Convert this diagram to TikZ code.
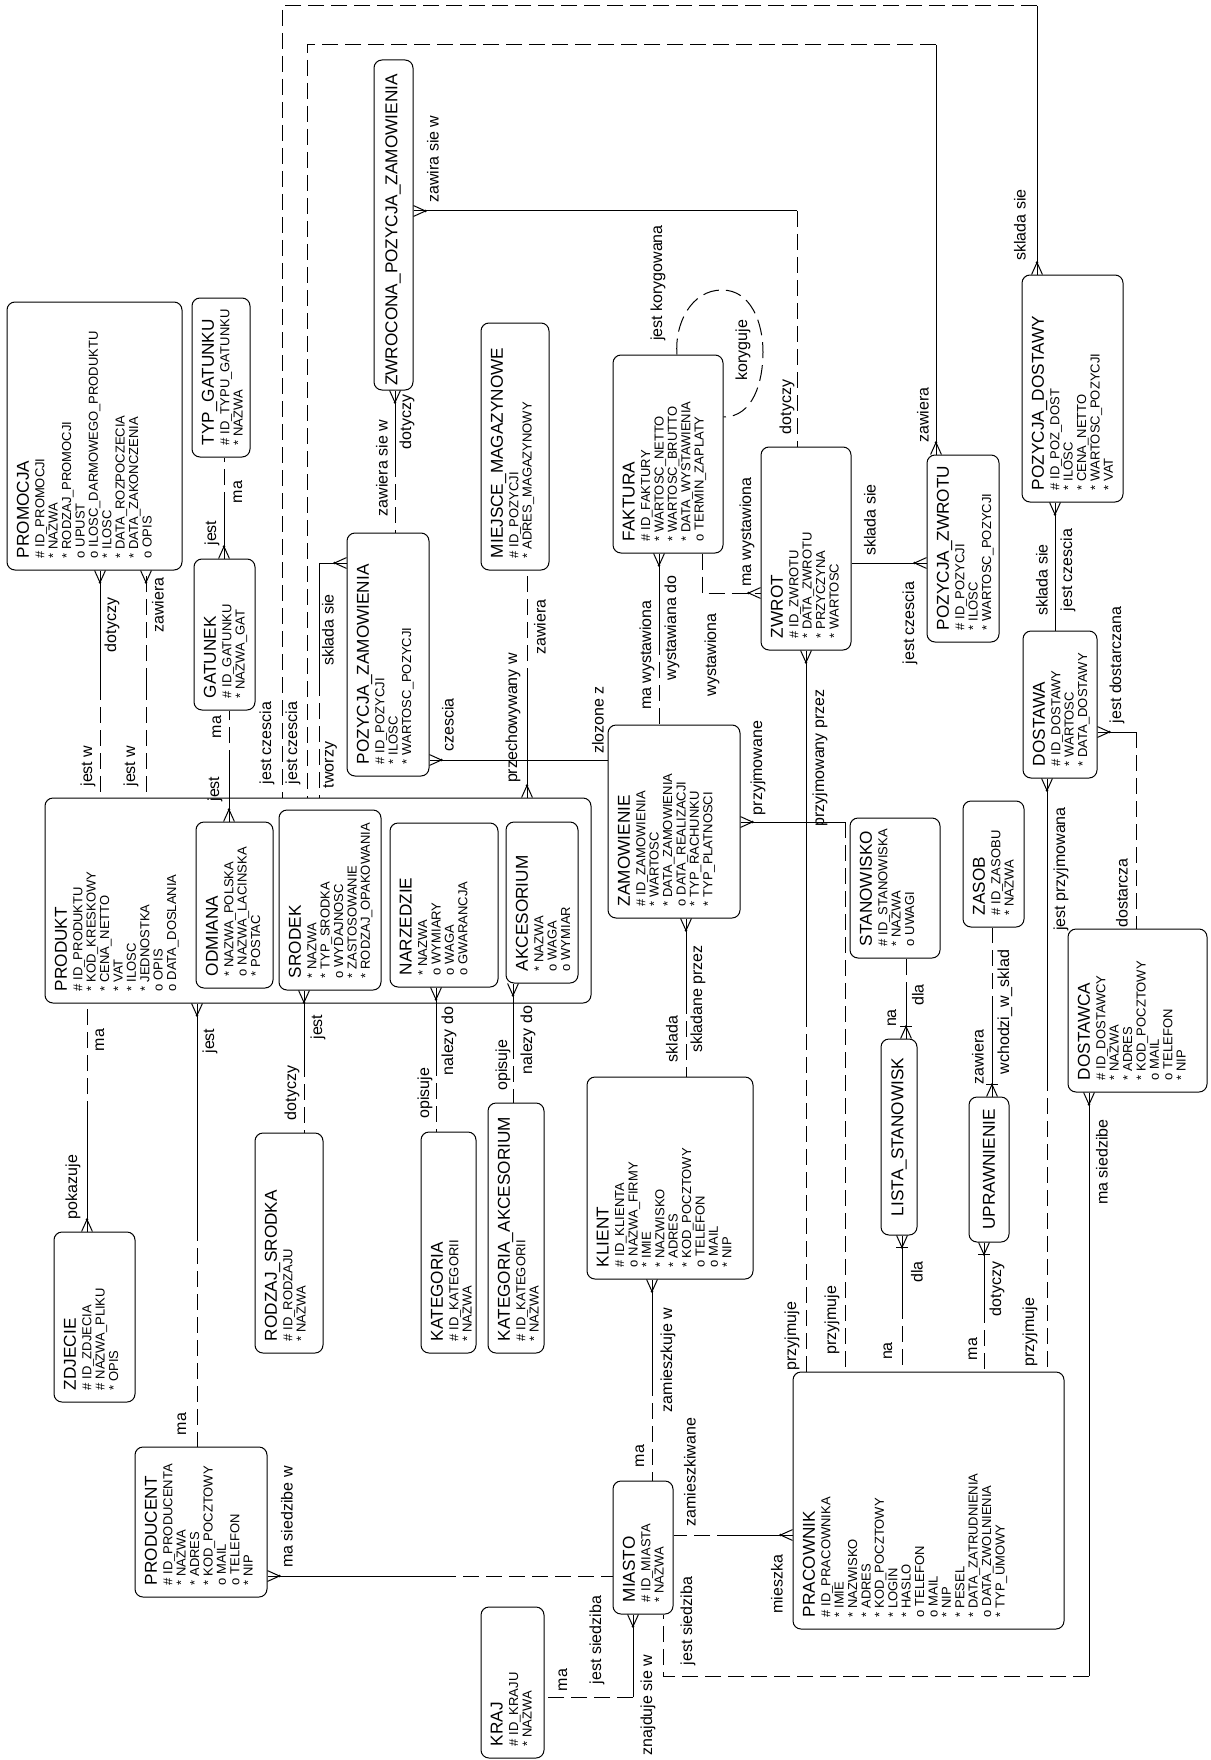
\documentclass[tikz,border=0pt]{standalone}
\usepackage{fontspec}
\setmainfont{Liberation Sans}
\usetikzlibrary{fit, decorations.markings}

\newcommand{\tyt}{\fontsize{8.6}{9.4}\selectfont}

\tikzset{
  encja/.style={draw, rounded corners=4pt, line width=0.5pt, inner sep=0pt},
  opis/.style={rotate=90, anchor=north west, align=left, inner xsep=6pt, inner ysep=5pt,
    font=\fontsize{6.5}{6.7}\selectfont},
  nazwa/.style={rotate=90, inner sep=0pt, font=\tyt},
  etyk/.style={rotate=90, inner sep=0pt, font=\fontsize{8}{9}\selectfont},
  rel/.style={line width=0.5pt},
  opc/.style={rel, dash pattern=on 8pt off 3.5pt},
  wiele/.style={postaction={decorate, decoration={markings, mark=at position 1 with {
    \draw[solid, line width=0.5pt] (-6pt,0) -- (0,2.7pt) (-6pt,0) -- (0,-2.7pt);
    \fill (-6pt,0) circle (0.7pt);}}}},
  wieleid/.style={wiele, postaction={decorate, decoration={markings, mark=at position 1 with {
    \draw[solid, line width=0.5pt] (-6pt,-2.9pt) -- (-6pt,2.9pt);}}}},
}

\begin{document}
\begin{tikzpicture}[x=0.5pt, y=-0.5pt]
  \useasboundingbox (0,0) rectangle (1210,1760);

  % encje
  \node[encja, fit={(7,302) (182,570)}] (promocja) {};
  \node[opis] (promocja-t) at (promocja.south west) {{\tyt PROMOCJA}\\[1pt]\# ID\_PROMOCJI\\{*} NAZWA\\{*} RODZAJ\_PROMOCJI\\o UPUST\\o ILOSC\_DARMOWEGO\_PRODUKTU\\{*} ILOSC\\{*} DATA\_ROZPOCZECIA\\{*} DATA\_ZAKONCZENIA\\o OPIS};
  \node[encja, fit={(192,298) (250,457)}] (typgat) {};
  \node[opis] (typgat-t) at (typgat.south west) {{\tyt TYP\_GATUNKU}\\[1pt]\# ID\_TYPU\_GATUNKU\\{*} NAZWA};
  \node[encja, fit={(194,559) (255,710)}] (gatunek) {};
  \node[opis] (gatunek-t) at (gatunek.south west) {{\tyt GATUNEK}\\[1pt]\# ID\_GATUNKU\\{*} NAZWA\_GAT};
  \node[encja, fit={(374,60) (413,390)}] (zwrocona) {};
  \node[nazwa] (zwrocona-t) at (393,230) {ZWROCONA\_POZYCJA\_ZAMOWIENIA};
  \node[encja, fit={(347,533) (429,776)}] (pozzam) {};
  \node[opis] (pozzam-t) at (pozzam.south west) {{\tyt POZYCJA\_ZAMOWIENIA}\\[1pt]\# ID\_POZYCJI\\{*} ILOSC\\{*} WARTOSC\_POZYCJI};
  \node[encja, fit={(481,323) (549,570)}] (miejsce) {};
  \node[opis] (miejsce-t) at (miejsce.south west) {{\tyt MIEJSCE\_MAGAZYNOWE}\\[1pt]\# ID\_POZYCJI\\{*} ADRES\_MAGAZYNOWY};
  \node[encja, fit={(613,355) (723,553)}] (faktura) {};
  \node[opis] (faktura-t) at (faktura.south west) {{\tyt FAKTURA}\\[1pt]\# ID\_FAKTURY\\{*} WARTOSC\_NETTO\\{*} WARTOSC\_BRUTTO\\{*} DATA\_WYSTAWIENIA\\o TERMIN\_ZAPLATY};
  \node[encja, fit={(761,447) (851,650)}] (zwrot) {};
  \node[opis] (zwrot-t) at (zwrot.south west) {{\tyt ZWROT}\\[1pt]\# ID\_ZWROTU\\{*} DATA\_ZWROTU\\{*} PRZYCZYNA\\{*} WARTOSC};
  \node[encja, fit={(927,455) (999,642)}] (pozzwr) {};
  \node[opis] (pozzwr-t) at (pozzwr.south west) {{\tyt POZYCJA\_ZWROTU}\\[1pt]\# ID\_POZYCJI\\{*} ILOSC\\{*} WARTOSC\_POZYCJI};
  \node[encja, fit={(1022,275) (1123,502)}] (pozdost) {};
  \node[opis] (pozdost-t) at (pozdost.south west) {{\tyt POZYCJA\_DOSTAWY}\\[1pt]\# ID\_POZ\_DOST\\{*} ILOSC\\{*} CENA\_NETTO\\{*} WARTOSC\_POZYCJI\\{*} VAT};
  \node[encja, fit={(1023,631) (1097,778)}] (dostawa) {};
  \node[opis] (dostawa-t) at (dostawa.south west) {{\tyt DOSTAWA}\\[1pt]\# ID\_DOSTAWY\\{*} WARTOSC\\{*} DATA\_DOSTAWY};
  \node[encja, fit={(608,725) (740,918)}] (zamowienie) {};
  \node[opis] (zamowienie-t) at (zamowienie.south west) {{\tyt ZAMOWIENIE}\\[1pt]\# ID\_ZAMOWIENIA\\{*} WARTOSC\\{*} DATA\_ZAMOWIENIA\\o DATA\_REALIZACJI\\{*} TYP\_RACHUNKU\\{*} TYP\_PLATNOSCI};

  % produkt z podtypami
  \node[encja, fit={(45,798) (591,1003)}] (produkt) {};
  \node[opis] (produkt-t) at (produkt.south west) {{\tyt PRODUKT}\\[1pt]\# ID\_PRODUKTU\\{*} KOD\_KRESKOWY\\{*} CENA\_NETTO\\{*} VAT\\{*} ILOSC\\{*} JEDNOSTKA\\o OPIS\\o DATA\_DOSLANIA};
  \node[encja, fit={(196,822) (273,988)}] (odmiana) {};
  \node[opis] (odmiana-t) at (odmiana.south west) {{\tyt ODMIANA}\\[1pt]{*} NAZWA\_POLSKA\\o NAZWA\_LACINSKA\\{*} POSTAC};
  \node[encja, fit={(279,810) (381,990)}] (srodek) {};
  \node[opis] (srodek-t) at (srodek.south west) {{\tyt SRODEK}\\[1pt]{*} NAZWA\\{*} TYP\_SRODKA\\o WYDAJNOSC\\{*} ZASTOSOWANIE\\{*} RODZAJ\_OPAKOWANIA};
  \node[encja, fit={(390,823) (498,987)}] (narzedzie) {};
  \node[opis] (narzedzie-t) at (narzedzie.south west) {{\tyt NARZEDZIE}\\[1pt]{*} NAZWA\\o WYMIARY\\o WAGA\\o GWARANCJA};
  \node[encja, fit={(506,822) (578,983)}] (akcesorium) {};
  \node[opis] (akcesorium-t) at (akcesorium.south west) {{\tyt AKCESORIUM}\\[1pt]{*} NAZWA\\o WAGA\\o WYMIAR};

  \node[encja, fit={(54,1232) (135,1402)}] (zdjecie) {};
  \node[opis] (zdjecie-t) at (zdjecie.south west) {{\tyt ZDJECIE}\\[1pt]\# ID\_ZDJECIA\\\# NAZWA\_PLIKU\\{*} OPIS};
  \node[encja, fit={(255,1133) (323,1353)}] (rodzaj) {};
  \node[opis] (rodzaj-t) at (rodzaj.south west) {{\tyt RODZAJ\_SRODKA}\\[1pt]\# ID\_RODZAJU\\{*} NAZWA};
  \node[encja, fit={(421,1132) (476,1353)}] (kategoria) {};
  \node[opis] (kategoria-t) at (kategoria.south west) {{\tyt KATEGORIA}\\[1pt]\# ID\_KATEGORII\\{*} NAZWA};
  \node[encja, fit={(488,1103) (544,1353)}] (katakc) {};
  \node[opis] (katakc-t) at (katakc.south west) {{\tyt KATEGORIA\_AKCESORIUM}\\[1pt]\# ID\_KATEGORII\\{*} NAZWA};
  \node[encja, fit={(587,1077) (753,1279)}] (klient) {};
  \node[opis] (klient-t) at (klient.south west) {{\tyt KLIENT}\\[1pt]\# ID\_KLIENTA\\o NAZWA\_FIRMY\\{*} IMIE\\{*} NAZWISKO\\{*} ADRES\\{*} KOD\_POCZTOWY\\o TELEFON\\o MAIL\\{*} NIP};
  \node[encja, fit={(850,818) (940,958)}] (stanowisko) {};
  \node[opis] (stanowisko-t) at (stanowisko.south west) {{\tyt STANOWISKO}\\[1pt]\# ID\_STANOWISKA\\{*} NAZWA\\o UWAGI};
  \node[encja, fit={(963,801) (1024,927)}] (zasob) {};
  \node[opis] (zasob-t) at (zasob.south west) {{\tyt ZASOB}\\[1pt]\# ID\_ZASOBU\\{*} NAZWA};
  \node[encja, fit={(1068,929) (1207,1092)}] (dostawca) {};
  \node[opis] (dostawca-t) at (dostawca.south west) {{\tyt DOSTAWCA}\\[1pt]\# ID\_DOSTAWCY\\{*} NAZWA\\{*} ADRES\\{*} KOD\_POCZTOWY\\o MAIL\\o TELEFON\\{*} NIP};
  \node[encja, fit={(881,1039) (917,1235)}] (lista) {};
  \node[nazwa] (lista-t) at (lista) {LISTA\_STANOWISK};
  \node[encja, fit={(969,1097) (1009,1242)}] (uprawn) {};
  \node[nazwa] (uprawn-t) at (uprawn) {UPRAWNIENIE};
  \node[encja, fit={(793,1372) (1064,1629)}] (pracownik) {};
  \node[opis] (pracownik-t) at (pracownik.south west) {{\tyt PRACOWNIK}\\[1pt]\# ID\_PRACOWNIKA\\{*} IMIE\\{*} NAZWISKO\\{*} ADRES\\{*} KOD\_POCZTOWY\\{*} LOGIN\\{*} HASLO\\o TELEFON\\o MAIL\\{*} NIP\\{*} PESEL\\{*} DATA\_ZATRUDNIENIA\\o DATA\_ZWOLNIENIA\\{*} TYP\_UMOWY};
  \node[encja, fit={(135,1447) (267,1597)}] (producent) {};
  \node[opis] (producent-t) at (producent.south west) {{\tyt PRODUCENT}\\[1pt]\# ID\_PRODUCENTA\\{*} NAZWA\\{*} ADRES\\{*} KOD\_POCZTOWY\\o MAIL\\o TELEFON\\{*} NIP};
  \node[encja, fit={(613,1481) (673,1614)}] (miasto) {};
  \node[opis] (miasto-t) at (miasto.south west) {{\tyt MIASTO}\\[1pt]\# ID\_MIASTA\\{*} NAZWA};
  \node[encja, fit={(481,1607) (544,1758)}] (kraj) {};
  \node[opis] (kraj-t) at (kraj.south west) {{\tyt KRAJ}\\[1pt]\# ID\_KRAJU\\{*} NAZWA};

  % relacje
  \coordinate (r1) at (100,684);
  \draw[rel, wiele] (r1) -- (r1 |- promocja.south);
  \draw[opc] (r1) -- (r1 |- produkt.north);
  \node[etyk] (e1a) at (112,625) {dotyczy};
  \node[etyk] (e1b) at (88,766) {jest w};

  \coordinate (r2) at (146,684);
  \draw[opc, wiele] (r2) -- (r2 |- promocja.south);
  \draw[opc] (r2) -- (r2 |- produkt.north);
  \node[etyk] (e2a) at (158,605) {zawiera};
  \node[etyk] (e2b) at (131,766) {jest w};

  \coordinate (r3) at (224,508);
  \draw[opc] (r3) -- (r3 |- typgat.south);
  \draw[rel, wiele] (r3) -- (r3 |- gatunek.north);
  \node[etyk] (e3a) at (238,492) {ma};
  \node[etyk] (e3b) at (212,533) {jest};

  \coordinate (r4) at (229,766);
  \draw[opc] (r4) -- (r4 |- gatunek.south);
  \draw[rel, wiele] (r4) -- (r4 |- odmiana.north);
  \node[etyk] (e4a) at (217,727) {ma};
  \node[etyk] (e4b) at (215,789) {jest};

  % dlugie petle u gory
  \coordinate (r5) at (1037,6);
  \draw[opc] (r5) -| (282,0 |- produkt.north);
  \draw[rel, wiele] (r5) -- (r5 |- pozdost.north);
  \node[etyk] (e5a) at (267,743) {jest czescia};
  \node[etyk] (e5b) at (1020,225) {sklada sie};

  \coordinate (r6) at (936,45);
  \draw[opc] (r6) -| (307,0 |- produkt.north);
  \draw[rel, wiele] (r6) -- (r6 |- pozzwr.north);
  \node[etyk] (e6a) at (293,743) {jest czescia};
  \node[etyk] (e6b) at (923,415) {zawiera};

  \coordinate (r7) at (319,680);
  \draw[opc] (r7) -- (r7 |- produkt.north);
  \draw[rel, wiele] (r7) |- (pozzam.west |- 0,563);
  \node[etyk] (e7a) at (330,765) {tworzy};
  \node[etyk] (e7b) at (328,630) {sklada sie};

  \coordinate (r8) at (395,461);
  \draw[opc] (r8) -- (r8 |- pozzam.north);
  \draw[rel, wiele] (r8) -- (r8 |- zwrocona.south);
  \node[etyk] (e8a) at (382,468) {zawiera sie w};
  \node[etyk] (e8b) at (407,422) {dotyczy};

  \coordinate (r9) at (797,211);
  \draw[rel, wiele] (r9) -- (zwrocona.east |- r9);
  \draw[opc] (r9) -- (r9 |- zwrot.north);
  \node[etyk] (e9a) at (433,159) {zawira sie w};
  \node[etyk] (e9b) at (787,407) {dotyczy};

  % faktura koryguje fakture
  \draw[opc, wiele] (677,0 |- faktura.north) to[out=95,in=180] (722,290)
    to[out=0,in=90] (763,352) to[out=-90,in=0] (faktura.east |- 0,417);
  \node[etyk] (e10a) at (658,283) {jest korygowana};
  \node[etyk] (e10b) at (743,350) {koryguje};

  \coordinate (r11) at (659,639);
  \draw[rel, wiele] (r11) -- (r11 |- faktura.south);
  \draw[opc] (r11) -- (r11 |- zamowienie.north);
  \node[etyk] (e11a) at (672,628) {wystawiana do};
  \node[etyk] (e11b) at (647,655) {ma wystawiona};

  \draw[opc, wiele] (702,0 |- faktura.south) |- (zwrot.west |- 0,593);
  \node[etyk] (e12a) at (712,655) {wystawiona};
  \node[etyk] (e12b) at (747,532) {ma wystawiona};

  \draw[rel, wiele] (zamowienie.west |- 0,760) -- (pozzam.east |- 0,760);
  \node[etyk] (e13a) at (448,725) {czescia};
  \node[etyk] (e13b) at (598,720) {zlozone z};

  \coordinate (r14) at (527,684);
  \draw[opc] (r14) -- (r14 |- miejsce.south);
  \draw[rel, wiele] (r14) -- (r14 |- produkt.north);
  \node[etyk] (e14a) at (540,627) {zawiera};
  \node[etyk] (e14b) at (513,718) {przechowywany w};

  \coordinate (r15) at (845,822);
  \draw[rel, wiele] (r15) -- (zamowienie.east |- r15);
  \draw[opc] (r15) -- (r15 |- pracownik.north);
  \node[etyk] (e15a) at (758,768) {przyjmowane};
  \node[etyk] (e15b) at (832,1320) {przyjmuje};

  \coordinate (r16) at (806,1011);
  \draw[rel, wiele] (r16) -- (r16 |- zwrot.south);
  \draw[opc] (r16) -- (r16 |- pracownik.north);
  \node[etyk] (e16a) at (820,758) {przyjmowany przez};
  \node[etyk] (e16b) at (792,1336) {przyjmuje};

  \draw[rel, wiele] (zwrot.east |- 0,563) -- (pozzwr.west |- 0,563);
  \node[etyk] (e17a) at (870,520) {sklada sie};
  \node[etyk] (e17b) at (910,623) {jest czescia};

  \draw[rel, wiele] (1055,0 |- dostawa.north) -- (1055,0 |- pozdost.south);
  \node[etyk] (e18a) at (1042,580) {sklada sie};
  \node[etyk] (e18b) at (1068,570) {jest czescia};

  \coordinate (r19) at (1136,732);
  \draw[rel, wiele] (r19) -- (dostawa.east |- r19);
  \draw[opc] (r19) -- (r19 |- dostawca.north);
  \node[etyk] (e19a) at (1117,665) {jest dostarczana};
  \node[etyk] (e19b) at (1122,893) {dostarcza};

  \coordinate (r20) at (1047,1075);
  \draw[rel, wiele] (r20) -- (r20 |- dostawa.south);
  \draw[opc] (r20) -- (r20 |- pracownik.north);
  \node[etyk] (e20a) at (1061,869) {jest przyjmowana};
  \node[etyk] (e20b) at (1030,1332) {przyjmuje};

  % miasto
  \coordinate (r21) at (1089,1676);
  \draw[rel, wiele] (r21) -- (r21 |- dostawca.south);
  \draw[opc] (r21) -| (663,0 |- miasto.south);
  \node[etyk] (e21a) at (1102,1162) {ma siedzibe};
  \node[etyk] (e21b) at (688,1621) {jest siedziba};

  \coordinate (r22) at (733,1535);
  \draw[opc] (r22) -- (miasto.east |- r22);
  \draw[rel, wiele] (r22) -- (pracownik.west |- r22);
  \node[etyk] (e22a) at (690,1472) {zamieszkiwane};
  \node[etyk] (e22b) at (777,1584) {mieszka};

  \coordinate (r23) at (440,1576);
  \draw[rel, wiele] (r23) -- (producent.east |- r23);
  \draw[opc] (r23) -- (miasto.west |- r23);
  \node[etyk] (e23a) at (287,1517) {ma siedzibe w};
  \node[etyk] (e23b) at (597,1640) {jest siedziba};

  \coordinate (r24) at (633,1697);
  \draw[opc] (r24) -- (kraj.east |- r24);
  \draw[rel, wiele] (r24) -- (r24 |- miasto.south);
  \node[etyk] (e24a) at (563,1680) {ma};
  \node[etyk] (e24b) at (648,1705) {znajduje sie w};

  \coordinate (r25) at (652,1380);
  \draw[rel, wiele] (r25) -- (r25 |- klient.south);
  \draw[opc] (r25) -- (r25 |- miasto.north);
  \node[etyk] (e25a) at (668,1360) {zamieszkuje w};
  \node[etyk] (e25b) at (640,1456) {ma};

  \coordinate (r26) at (686,998);
  \draw[rel, wiele] (r26) -- (r26 |- zamowienie.south);
  \draw[opc] (r26) -- (r26 |- klient.north);
  \node[etyk] (e26a) at (698,999) {skladane przez};
  \node[etyk] (e26b) at (672,1039) {sklada};

  % podtypy produktu
  \coordinate (r27) at (436,1060);
  \draw[rel, wiele] (r27) -- (r27 |- narzedzie.south);
  \draw[opc] (r27) -- (r27 |- kategoria.north);
  \node[etyk] (e27a) at (449,1041) {nalezy do};
  \node[etyk] (e27b) at (425,1093) {opisuje};

  \coordinate (r28) at (513,1043);
  \draw[rel, wiele] (r28) -- (r28 |- akcesorium.south);
  \draw[opc] (r28) -- (r28 |- katakc.north);
  \node[etyk] (e28a) at (528,1040) {nalezy do};
  \node[etyk] (e28b) at (503,1065) {opisuje};

  \coordinate (r29) at (304,1061);
  \draw[rel, wiele] (r29) -- (r29 |- srodek.south);
  \draw[opc] (r29) -- (r29 |- rodzaj.north);
  \node[etyk] (e29a) at (318,1027) {jest};
  \node[etyk] (e29b) at (292,1093) {dotyczy};

  \coordinate (r30) at (87,1117);
  \draw[opc] (r30) -- (r30 |- produkt.south);
  \draw[rel, wiele] (r30) -- (r30 |- zdjecie.north);
  \node[etyk] (e30a) at (100,1040) {ma};
  \node[etyk] (e30b) at (73,1187) {pokazuje};

  \coordinate (r31) at (197,1225);
  \draw[rel, wiele] (r31) -- (r31 |- produkt.south);
  \draw[opc] (r31) -- (r31 |- producent.north);
  \node[etyk] (e31a) at (210,1041) {jest};
  \node[etyk] (e31b) at (182,1424) {ma};

  % stanowiska i uprawnienia
  \coordinate (r32) at (906,998);
  \draw[opc] (r32) -- (r32 |- stanowisko.south);
  \draw[rel, wieleid] (r32) -- (r32 |- lista.north);
  \node[etyk] (e32a) at (892,1018) {na};
  \node[etyk] (e32b) at (918,995) {dla};

  \coordinate (r33) at (902,1303);
  \draw[rel, wieleid] (r33) -- (r33 |- lista.south);
  \draw[opc] (r33) -- (r33 |- pracownik.north);
  \node[etyk] (e33a) at (917,1272) {dla};
  \node[etyk] (e33b) at (888,1351) {na};

  \coordinate (r34) at (992,1012);
  \draw[opc] (r34) -- (r34 |- zasob.south);
  \draw[rel, wieleid] (r34) -- (r34 |- uprawn.north);
  \node[etyk] (e34a) at (978,1057) {zawiera};
  \node[etyk] (e34b) at (1005,1012) {wchodzi\_w\_sklad};

  \coordinate (r35) at (984,1307);
  \draw[rel, wieleid] (r35) -- (r35 |- uprawn.south);
  \draw[opc] (r35) -- (r35 |- pracownik.north);
  \node[etyk] (e35a) at (997,1289) {dotyczy};
  \node[etyk] (e35b) at (973,1349) {ma};
\end{tikzpicture}
\end{document}
